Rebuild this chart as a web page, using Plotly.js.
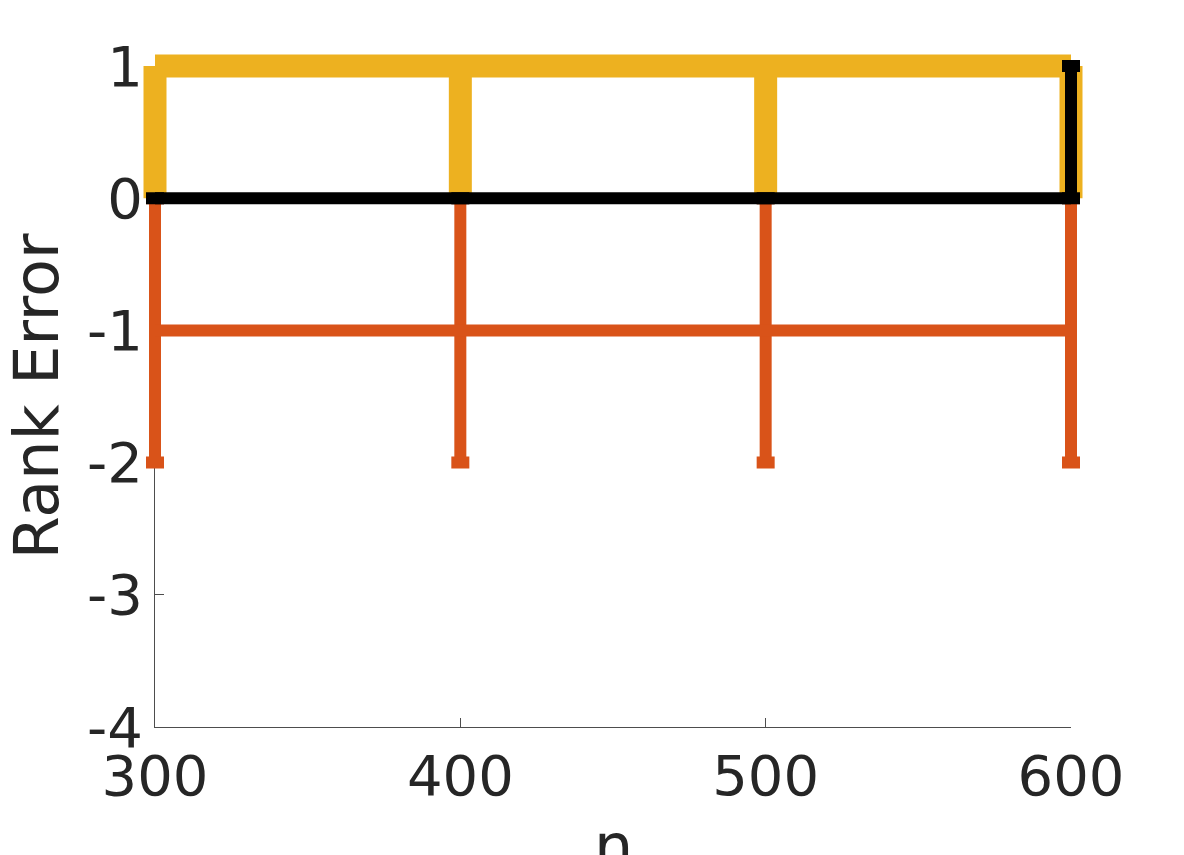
<!DOCTYPE html>
<html>
<head>
<meta charset="utf-8">
<script src="https://cdn.plot.ly/plotly-3.0.1.min.js"></script>
<style>html,body{margin:0;padding:0;background:#fff;}#chart{width:1184px;height:855px;}</style>
</head>
<body>
<div id="chart"></div>
<script>
var n = [300, 400, 500, 600];
var orangeVal = [-1, -1, -1, -1];
var orangeErr = [1, 1, 1, 1];
var yellowVal = [1, 1, 1, 1];
var yellowErrPlus = [0, 0, 0, 0];
var yellowErrMinus = [1, 1, 1, 1];
var blackVal = [0, 0, 0, 0];
var blackErrPlus = [0, 0, 0, 1];
var blackErrMinus = [0, 0, 0, 0];
var xTicks = [300, 400, 500, 600];
var yTicks = [-4, -3, -2, -1, 0, 1];
var xTitle = 'n';
var yTitle = 'Rank Error';

// layout geometry (pixels)
var W = 1184, H = 855;
var pl = 155, pr = 1071, pt = 66, pb = 727;
var xr = [300, 600], yr = [-4, 1];
var padX = 5, padY = 0.2;   // extra data room so thick lines are not clipped
var pxX = (pr - pl) / (xr[1] - xr[0]);
var pxY = (pb - pt) / (yr[1] - yr[0]);

var dom1x = [pl / W, pr / W];
var dom1y = [(H - pb) / H, (H - pt) / H];
var dom2x = [(pl - padX * pxX) / W, (pr + padX * pxX) / W];
var dom2y = [(H - pb - padY * pxY) / H, (H - pt + padY * pxY) / H];

var traces = [
  // empty trace so the visible axes get drawn
  {x: [], y: [], xaxis: 'x', yaxis: 'y', type: 'scatter', mode: 'lines', hoverinfo: 'skip'},
  {x: n, y: orangeVal, xaxis: 'x2', yaxis: 'y2', mode: 'lines', type: 'scatter',
   line: {color: '#D95319', width: 12},
   error_y: {type: 'data', array: orangeErr, symmetric: true, color: '#D95319', thickness: 12, width: 9}},
  {x: n, y: yellowVal, xaxis: 'x2', yaxis: 'y2', mode: 'lines', type: 'scatter',
   line: {color: '#EDB120', width: 23},
   error_y: {type: 'data', array: yellowErrPlus, arrayminus: yellowErrMinus, symmetric: false, color: '#EDB120', thickness: 23, width: 0}},
  {x: n, y: blackVal, xaxis: 'x2', yaxis: 'y2', mode: 'lines', type: 'scatter',
   line: {color: '#000000', width: 12},
   error_y: {type: 'data', array: blackErrPlus, arrayminus: blackErrMinus, symmetric: false, color: '#000000', thickness: 12, width: 9}}
];

var tickFont = {family: 'DejaVu Sans', size: 56, color: '#262626'};
var titleFont = {family: 'DejaVu Sans', size: 62, color: '#262626'};

var layout = {
  width: W, height: H,
  margin: {l: 0, r: 0, t: 0, b: 0},
  paper_bgcolor: '#ffffff', plot_bgcolor: 'rgba(0,0,0,0)',
  showlegend: false,
  font: {family: 'DejaVu Sans', color: '#262626'},
  xaxis: {
    domain: dom1x, anchor: 'y',
    range: xr, tickvals: xTicks, ticktext: xTicks.map(String),
    showgrid: false, zeroline: false, showline: true, linecolor: '#4d4d4d', linewidth: 1,
    ticks: 'inside', ticklen: 9, tickcolor: '#4d4d4d', tickwidth: 1,
    tickfont: tickFont,
    automargin: false
  },
  yaxis: {
    domain: dom1y, anchor: 'x',
    range: yr, tickvals: yTicks, ticktext: yTicks.map(String),
    showgrid: false, zeroline: false, showline: true, linecolor: '#4d4d4d', linewidth: 1,
    ticks: 'inside', ticklen: 9, tickcolor: '#4d4d4d', tickwidth: 1,
    tickfont: tickFont,
    title: {text: yTitle, font: titleFont, standoff: 10},
    automargin: false
  },
  xaxis2: {
    domain: dom2x, anchor: 'y2',
    range: [xr[0] - padX, xr[1] + padX],
    visible: false, showgrid: false, zeroline: false
  },
  yaxis2: {
    domain: dom2y, anchor: 'x2',
    range: [yr[0] - padY, yr[1] + padY],
    visible: false, showgrid: false, zeroline: false
  },
  annotations: [{
    text: xTitle, xref: 'paper', yref: 'paper',
    x: (pl + pr) / 2 / W, y: (H - 885) / H,
    xanchor: 'center', yanchor: 'bottom', showarrow: false,
    font: titleFont
  }]
};

Plotly.newPlot('chart', traces, layout, {displayModeBar: false, staticPlot: true});
</script>
</body>
</html>
